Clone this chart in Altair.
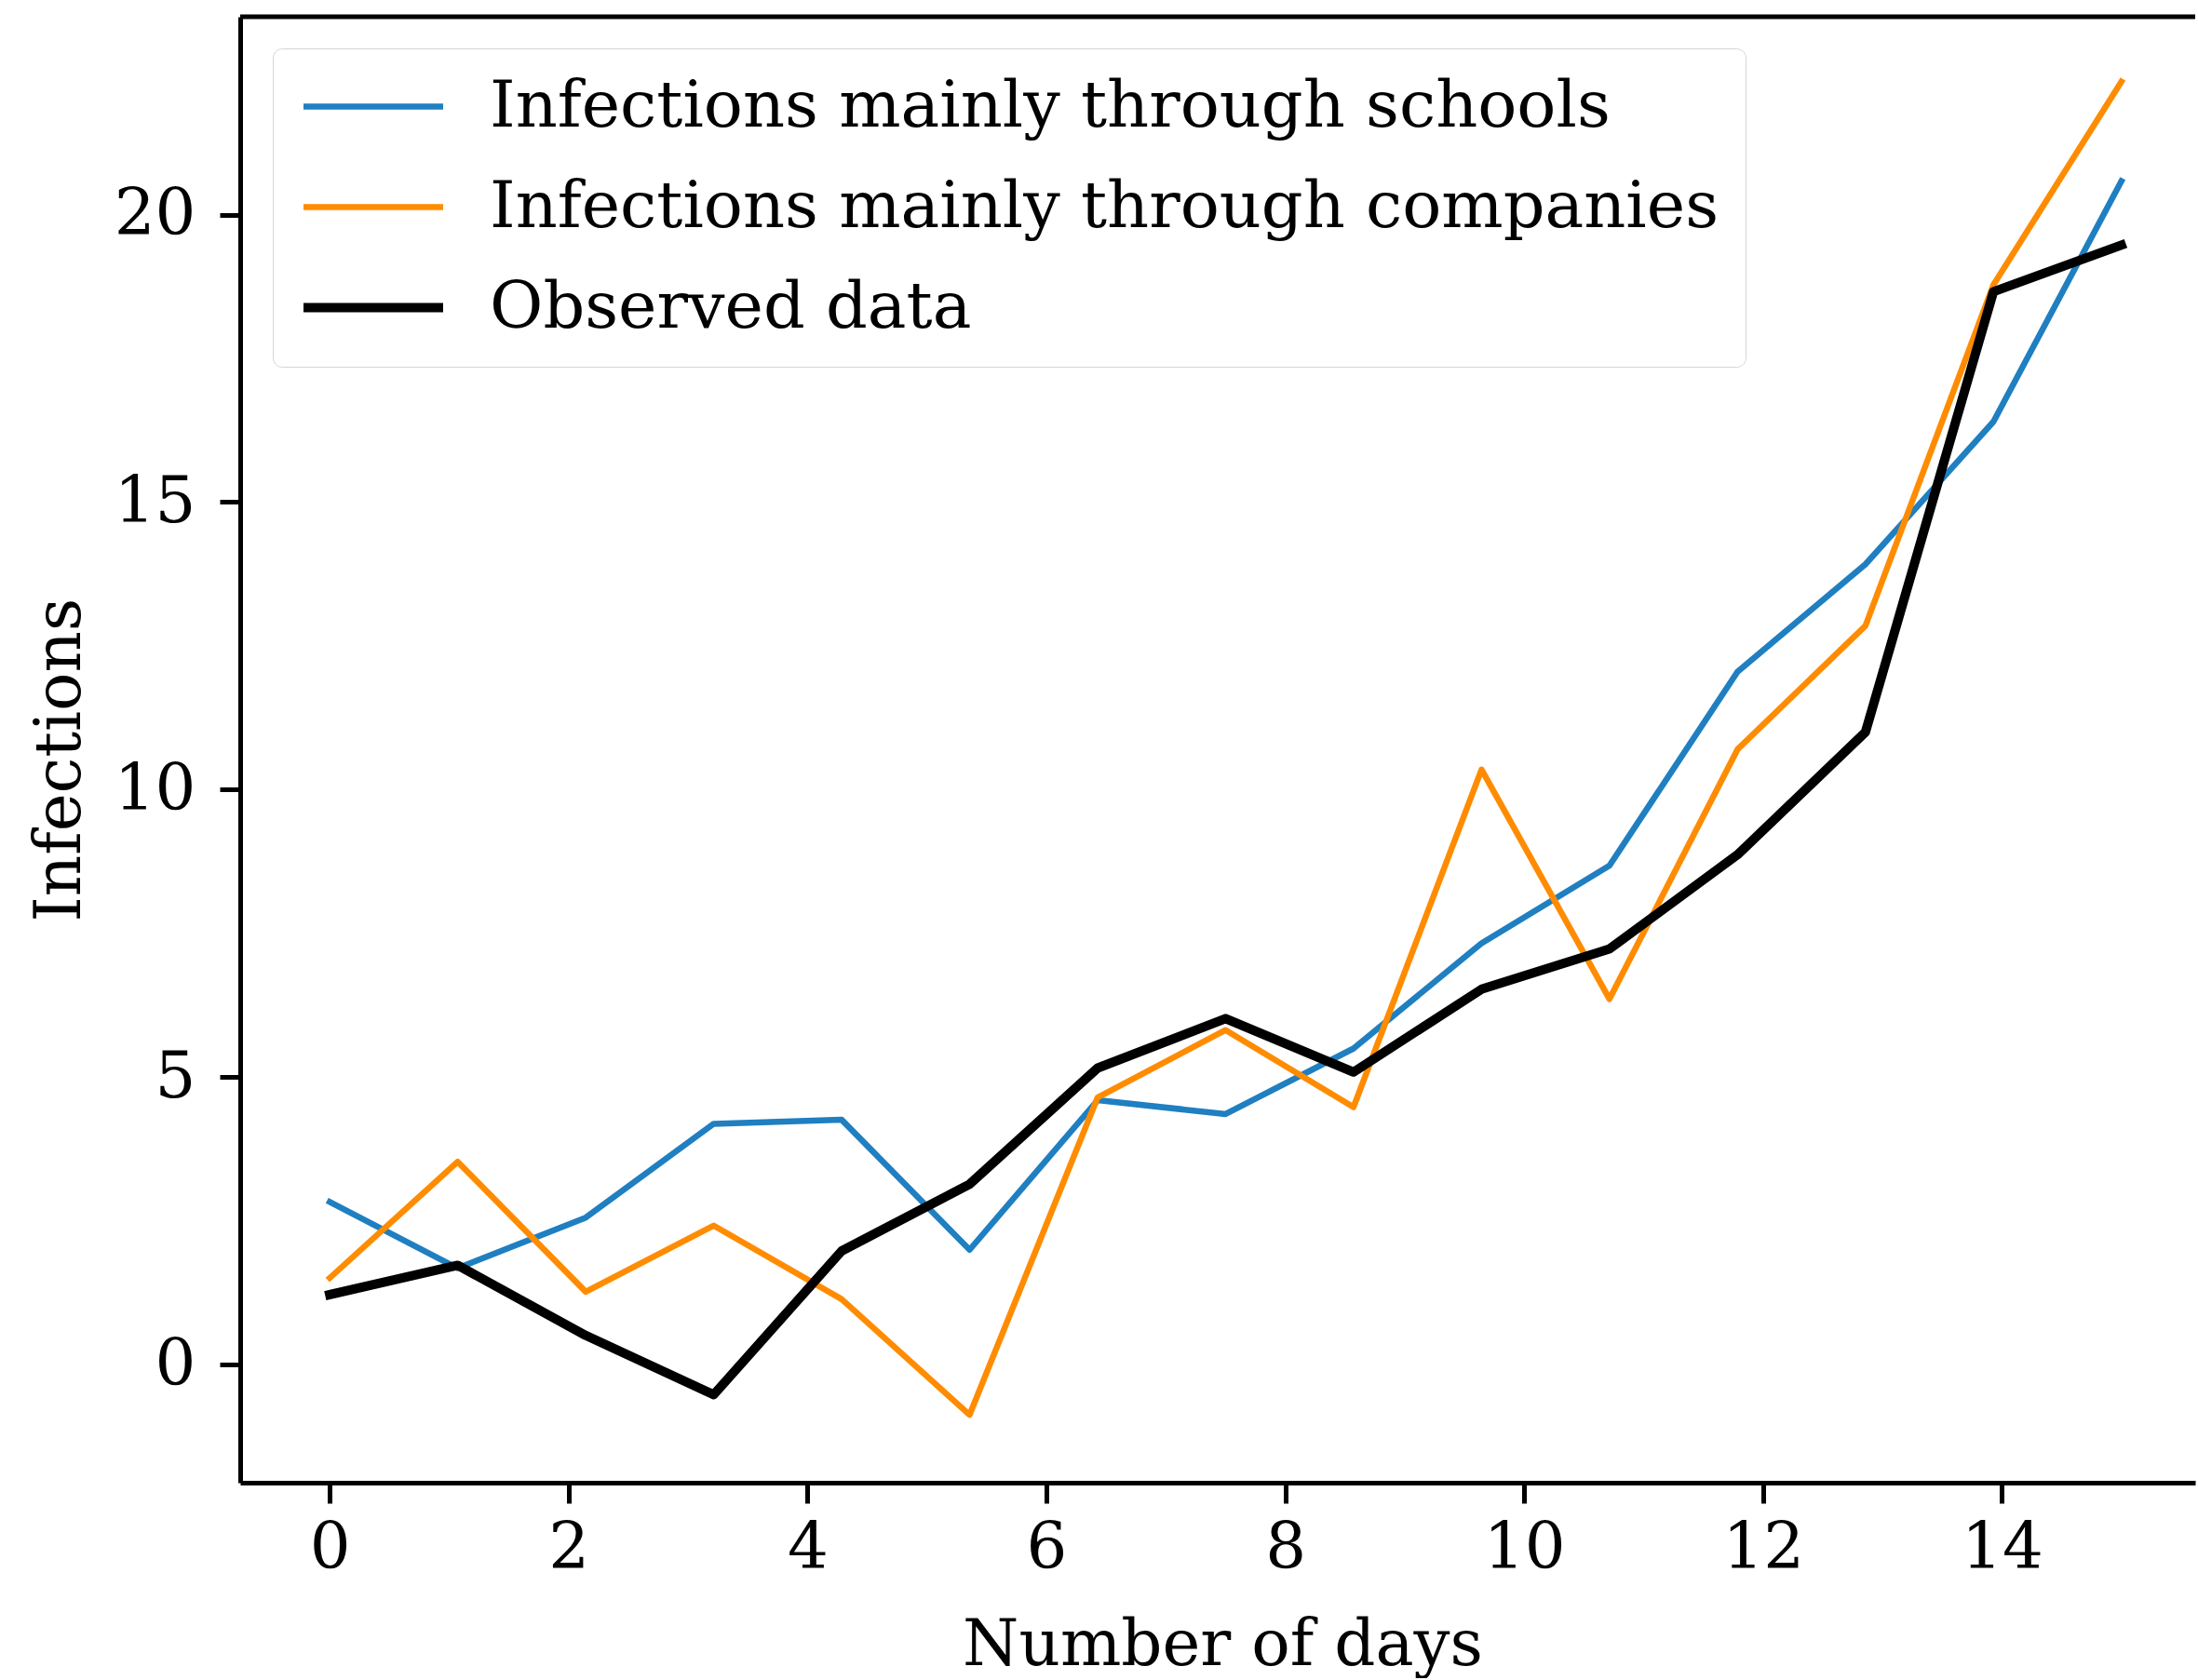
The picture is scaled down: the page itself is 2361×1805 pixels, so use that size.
import altair as alt
import pandas as pd

# ---- data ----
days = [0, 1.071, 2.143, 3.214, 4.286, 5.357, 6.429, 7.5, 8.571, 9.643,
        10.714, 11.786, 12.857, 13.929, 15]
schools = [2.83, 1.68, 2.56, 4.19, 4.26, 2.0, 4.6, 4.36, 5.5, 7.33,
           8.68, 12.05, 13.92, 16.4, 20.58]
companies = [1.51, 3.53, 1.27, 2.42, 1.14, -0.87, 4.65, 5.82, 4.48, 10.35,
             6.36, 10.7, 12.85, 18.78, 22.31]
observed = [1.22, 1.73, 0.51, -0.52, 1.98, 3.14, 5.16, 6.02, 5.09, 6.53,
            7.23, 8.87, 11.0, 18.66, 19.47]

series_names = ["Infections mainly through schools",
                "Infections mainly through companies",
                "Observed data"]
series_colors = ["#1f7fc1", "#ff8c00", "#000000"]
series_widths = [6.5, 6.5, 10]
x_ticks = [0, 2, 4, 6, 8, 10, 12, 14]
y_ticks = [0, 5, 10, 15, 20]

rows = []
for name, vals in zip(series_names, [schools, companies, observed]):
    for d, v in zip(days, vals):
        rows.append({"day": d, "infections": v, "series": name})
df = pd.DataFrame(rows)

W, H = 2100, 1575
FONT = "DejaVu Serif"
FS = 69

legend = alt.Legend(
    title=None, orient="none", legendX=35, legendY=34,
    symbolType="stroke", symbolSize=22500, clipHeight=69,
    labelFont=FONT, labelFontSize=70, labelColor="black", labelLimit=3000,
    labelOffset=45, padding=28, rowPadding=37,
    strokeColor="#d5d5d5", fillColor="white", cornerRadius=10,
)

x_enc = alt.X(
    "day:Q",
    scale=alt.Scale(domain=[-0.75, 15.618], nice=False, zero=False),
    axis=alt.Axis(
        values=x_ticks, format="d", title="Number of days", grid=False,
        domainColor="black", domainWidth=5, tickColor="black", tickWidth=5,
        tickSize=22, labelFont=FONT, labelFontSize=FS, labelColor="black",
        labelPadding=14, titleFont=FONT, titleFontSize=FS,
        titleFontWeight="normal", titleColor="black", titleX=1055,
        titleY=195, titleBaseline="alphabetic", titleAlign="center",
    ),
)
y_enc = alt.Y(
    "infections:Q",
    scale=alt.Scale(domain=[-2.05, 23.44], nice=False, zero=False),
    axis=alt.Axis(
        values=y_ticks, format="d", title="Infections", grid=False,
        domainColor="black", domainWidth=5, tickColor="black", tickWidth=5,
        tickSize=22, labelFont=FONT, labelFontSize=FS, labelColor="black",
        labelPadding=26, titleFont=FONT, titleFontSize=FS,
        titleFontWeight="normal", titleColor="black", titleX=-173,
        titleY=798, titleBaseline="alphabetic", titleAlign="center",
        titleAngle=270,
    ),
)
color_enc = alt.Color(
    "series:N",
    scale=alt.Scale(domain=series_names, range=series_colors),
    legend=legend,
)
width_enc = alt.StrokeWidth(
    "series:N",
    scale=alt.Scale(type="ordinal", domain=series_names, range=series_widths),
    legend=legend,
)

layers = []
for name in series_names:
    layers.append(
        alt.Chart(df)
        .transform_filter(alt.datum.series == name)
        .mark_line(strokeJoin="round", strokeCap="square")
        .encode(x=x_enc, y=y_enc, color=color_enc, strokeWidth=width_enc)
    )

top_spine = alt.Chart(alt.Data(values=[{"k": 1}])).mark_rule(
    color="black", strokeWidth=5
).encode(x=alt.value(0), x2=alt.value(W), y=alt.value(0))

chart = (
    alt.layer(*layers, top_spine)
    .properties(
        width=W, height=H,
        autosize=alt.AutoSizeParams(type="none"),
        padding={"left": 258, "top": 18, "right": 3, "bottom": 210},
        background="white",
    )
    .configure_view(stroke=None)
)

chart.save("out.html", embed_options={"renderer": "svg", "actions": False})
